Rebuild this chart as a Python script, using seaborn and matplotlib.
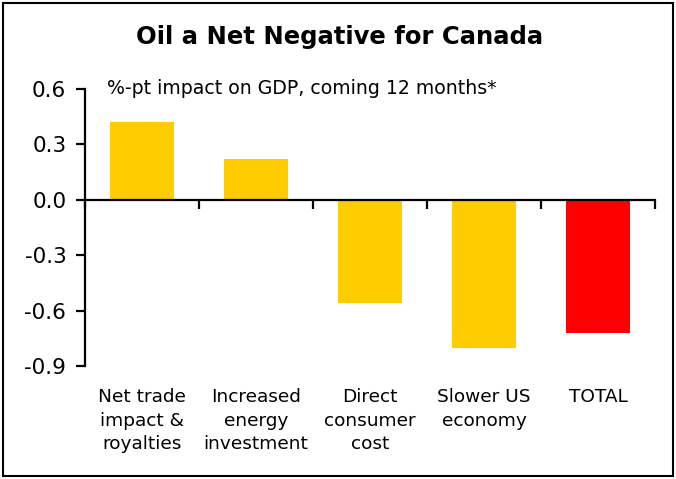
import matplotlib
matplotlib.use("Agg")
import matplotlib.pyplot as plt
import matplotlib.patches as mpatches
import matplotlib.transforms as mtransforms
import seaborn as sns
import pandas as pd

categories = ["Net trade\nimpact &\nroyalties", "Increased\nenergy\ninvestment",
              "Direct\nconsumer\ncost", "Slower US\neconomy", "TOTAL"]
values = [0.42, 0.22, -0.56, -0.80, -0.72]
bar_colors = ["#FFCC00", "#FFCC00", "#FFCC00", "#FFCC00", "#FF0000"]
yticks = [0.6, 0.3, 0.0, -0.3, -0.6, -0.9]
title = "Oil a Net Negative for Canada"
subtitle = "%-pt impact on GDP, coming 12 months*"

sns.set_theme(style="white")
plt.rcParams['font.family'] = ['DejaVu Sans']

fig = plt.figure(figsize=(6.76, 4.79), dpi=100)
ax = fig.add_axes([85/676, 1-366/479, 570/676, 277/479])

df = pd.DataFrame({"cat": categories, "val": values})
sns.barplot(data=df, x="cat", y="val", hue="cat", palette=bar_colors,
            width=0.56, legend=False, saturation=1, linewidth=0, ax=ax)

ax.set_ylim(-0.9, 0.6)
ax.set_xlim(-0.5, 4.5)
ax.set_yticks(yticks)
ax.set_yticklabels([f"{v:.1f}" for v in yticks], fontsize=15.5)
ax.set_xticks([i - 0.5 for i in range(len(categories) + 1)])
ax.set_xticklabels([])
ax.set_xlabel("")
ax.set_ylabel("")

for s in ["top", "right"]:
    ax.spines[s].set_visible(False)
ax.spines["left"].set_linewidth(1.6)
ax.spines["left"].set_color("black")
ax.spines["bottom"].set_position(("data", 0))
ax.spines["bottom"].set_linewidth(1.6)
ax.spines["bottom"].set_color("black")
ax.tick_params(axis="y", direction="out", length=6.5, width=1.6, color="black",
               left=True, pad=7, labelcolor="black")
ax.tick_params(axis="x", direction="out", length=6.5, width=1.6, color="black",
               bottom=True)

trans = mtransforms.blended_transform_factory(ax.transData, ax.transAxes)
for i, c in enumerate(categories):
    ax.text(i, -0.08, c, transform=trans, ha="center", va="top",
            fontsize=13.3, linespacing=1.4, color="black")

ax.text(22/570, 1.0, subtitle, transform=ax.transAxes, ha="left", va="center",
        fontsize=13.6, color="black")

fig.text(340/676, 1-37/479, title, ha="center", va="center",
         fontsize=17.5, fontweight="bold", color="black")

fig.patches.append(mpatches.Rectangle((3/676, 3/479), 670/676, 473/479,
                                      transform=fig.transFigure, fill=False,
                                      edgecolor="black", linewidth=1.5))

fig.savefig("out.png", dpi=100)
